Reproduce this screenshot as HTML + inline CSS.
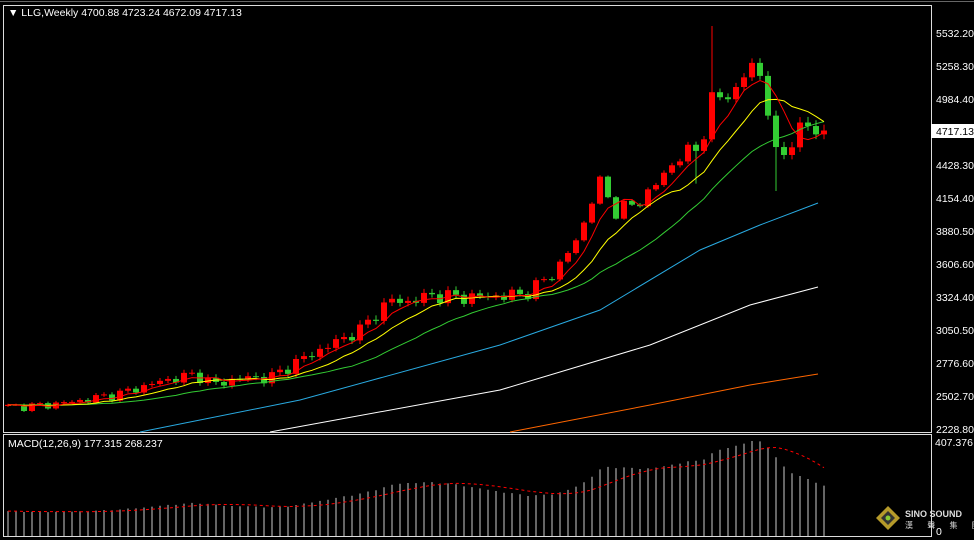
<!DOCTYPE html>
<html><head><meta charset="utf-8"><style>
body{margin:0;background:#000;width:974px;height:540px;overflow:hidden;font-family:"Liberation Sans",sans-serif}
#c{position:absolute;left:0;top:0}
</style></head><body>
<svg id="c" width="974" height="540" xmlns="http://www.w3.org/2000/svg">
<rect x="0" y="0" width="974" height="540" fill="#000"/>
<line x1="0" y1="1.5" x2="974" y2="1.5" stroke="#666"/>
<rect x="3.5" y="5.5" width="928" height="427" fill="none" stroke="#ddd"/>
<rect x="3.5" y="434.5" width="928" height="102" fill="none" stroke="#ddd"/>
<g id="g"></g>
<text x="8" y="16" fill="#fff" font-size="10.5" font-family="Liberation Sans">▼ LLG,Weekly  4700.88 4723.24 4672.09 4717.13</text>
<text x="8" y="447" fill="#fff" font-size="10.5" font-family="Liberation Sans">MACD(12,26,9) 177.315 268.237</text>
<g font-size="10.5" font-family="Liberation Sans" fill="#fff">
<text x="936" y="37">5532.20</text><text x="936" y="70">5258.30</text><text x="936" y="103">4984.40</text>
<rect x="931" y="124" width="43" height="14" fill="#fff"/><text x="936" y="135" fill="#000">4717.13</text>
<text x="936" y="169">4428.30</text><text x="936" y="202">4154.40</text><text x="936" y="235">3880.50</text>
<text x="936" y="268">3606.60</text><text x="936" y="301">3324.40</text><text x="936" y="334">3050.50</text>
<text x="936" y="367">2776.60</text><text x="936" y="400">2502.70</text><text x="936" y="433">2228.80</text>
<text x="935" y="446">407.376</text><text x="936" y="535">0</text>
</g>
<g transform="translate(888,518)"><polygon points="0,-12 12,0 0,12 -12,0" fill="#b59a2a"/><polygon points="0,-7 7,0 0,7 -7,0" fill="#333"/><circle r="2.5" fill="#8c3"/></g>
<text x="905" y="517" fill="#ddd" font-size="9" font-weight="bold" font-family="Liberation Sans">SINO SOUND</text>
<text x="905" y="528" fill="#ddd" font-size="8" font-family="Liberation Sans, Noto Sans CJK TC, sans-serif" letter-spacing="6">漢 聲 集 團</text>
</svg>
<script>
var kp=[[8,2430],[40,2440],[80,2480],[120,2540],[160,2640],[195,2700],[215,2615],[240,2670],[270,2670],[300,2818],[330,2943],[360,3068],[390,3316],[410,3300],[430,3358],[460,3340],[490,3345],[520,3360],[540,3441],[560,3607],[580,3856],[598,4312],[615,4063],[635,4100],[660,4312],[680,4520],[700,4560],[710,4976],[720,4990],[735,5050],[750,5267],[765,5142],[773,4520],[782,4480],[790,4644],[805,4769],[818,4710]];
function interp(x,pts){for(var i=1;i<pts.length;i++){if(x<=pts[i][0]){var a=pts[i-1],b=pts[i];return a[1]+(b[1]-a[1])*(x-a[0])/(b[0]-a[0]);}}return pts[pts.length-1][1];}
function Y(p){return 33+(5532.2-p)*0.1205;}
var N=103,xs=[],cl=[];for(var i=0;i<N;i++){var x=8+i*8;xs.push(x);var n=Math.sin(i*2.3)*32+Math.cos(i*1.7)*24;cl.push(interp(x,kp)+n*(0.7+i/N));}
var s='';
for(i=0;i<N;i++){var o=i?cl[i-1]:cl[0]-10;var c=cl[i];var r=Math.abs(Math.sin(i*3.1))*50*(0.5+i/N)+15;
var hi=Math.max(o,c)+r*0.6,lo=Math.min(o,c)-r*0.5;if(i==88)hi+=520;if(i==96)lo-=330;if(i==86)lo-=250;
var col=c>=o?'#f00':'#3c3';var x=xs[i];
s+='<line x1="'+x+'" x2="'+x+'" y1="'+Y(hi)+'" y2="'+Y(lo)+'" stroke="'+col+'"/>';
var t=Y(Math.max(o,c)),b=Y(Math.min(o,c));s+='<rect x="'+(x-3)+'" y="'+t+'" width="6" height="'+Math.max(1,b-t)+'" fill="'+col+'"/>';}
function sma(n){var a=[];for(var i=0;i<N;i++){var sm=0;for(var k=0;k<n;k++){sm+=cl[Math.max(0,i-k)];}a.push(sm/n);}return a;}
function pl(arr,col){var p=arr.map(function(v,i){return xs[i]+','+Y(v).toFixed(1)}).join(' ');return '<polyline points="'+p+'" fill="none" stroke="'+col+'"/>';}
function kl(pts,col){return '<polyline points="'+pts.map(function(p){return p.join(',')}).join(' ')+'" fill="none" stroke="'+col+'"/>';}
s+=kl([[140,432],[300,400],[500,345],[600,310],[700,250],[760,225],[818,203]],'#29aae1');
s+=kl([[270,432],[500,390],[650,345],[750,305],[818,287]],'#fff');
s+=kl([[510,432],[650,405],[750,385],[818,374]],'#f60');
s+=pl(sma(20),'#3c3')+pl(sma(10),'#ff0')+pl(sma(5),'#f00');
function ema(a,n){var k=2/(n+1),r=[a[0]];for(var i=1;i<a.length;i++)r.push(a[i]*k+r[i-1]*(1-k));return r;}
var base=[];for(i=0;i<40;i++)base.push(cl[0]-(40-i)*4);var all=base.concat(cl);
var e12=ema(all,12),e26=ema(all,26),m=e12.map(function(v,i){return v-e26[i]}).slice(40);
var sg=[];for(i=0;i<N;i++){var w=Math.min(9,i+1),t2=0;for(var k=0;k<w;k++)t2+=m[i-k];sg.push(t2/w);}
var mx=Math.max.apply(null,m);function H(v){return 20+Math.max(0,v)/mx*75;}
for(i=0;i<N;i++){s+='<line x1="'+xs[i]+'" x2="'+xs[i]+'" y1="536" y2="'+(536-H(m[i]))+'" stroke="#ccc"/>';}
s+='<polyline points="'+sg.map(function(v,i){return xs[i]+','+(536-H(v)).toFixed(1)}).join(' ')+'" fill="none" stroke="#f00" stroke-dasharray="3,3"/>';
document.getElementById('g').innerHTML=s;
</script>
</body></html>
